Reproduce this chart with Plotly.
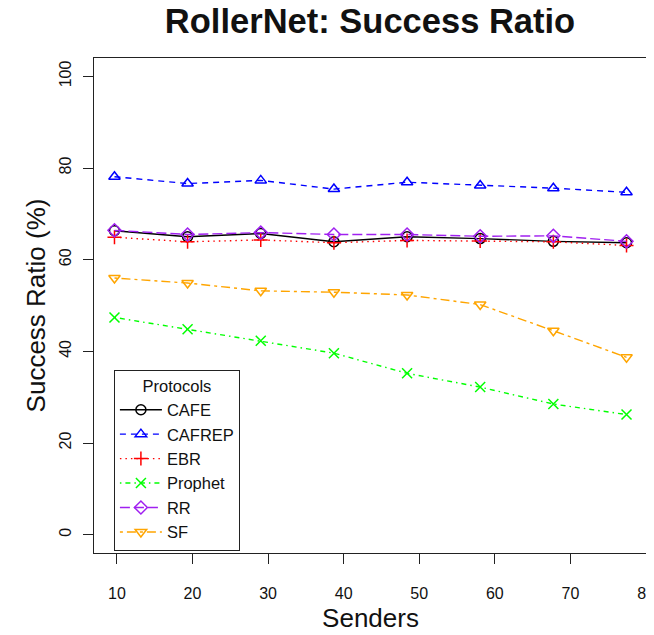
import plotly.graph_objects as go

senders = [9.68, 19.35, 29.03, 38.71, 48.39, 58.06, 67.74, 77.42]
x_ticks = [10, 20, 30, 40, 50, 60, 70, 80]
y_ticks = [0, 20, 40, 60, 80, 100]

cafe = [66.3, 65.0, 65.7, 63.9, 65.0, 64.6, 64.0, 63.7]
cafrep = [78.1, 76.6, 77.3, 75.4, 76.9, 76.2, 75.6, 74.7]
ebr = [64.9, 63.9, 64.3, 63.7, 64.2, 64.1, 63.9, 63.1]
prophet = [47.4, 44.8, 42.3, 39.6, 35.2, 32.2, 28.5, 26.2]
rr = [66.4, 65.5, 65.9, 65.5, 65.5, 65.1, 65.2, 64.0]
sf = [56.0, 54.9, 53.2, 52.9, 52.3, 50.2, 44.5, 38.7]

series = [
    ("CAFE", cafe, "black", "solid", "circle-open"),
    ("CAFREP", cafrep, "#0000FF", "6px,5px", "triangle-up-open"),
    ("EBR", ebr, "#FF0000", "1.5px,4px", "cross-thin-open"),
    ("Prophet", prophet, "#00FF00", "1.5px,4px,5px,4px", "x-thin-open"),
    ("RR", rr, "#A020F0", "10px,4px", "diamond-open"),
    ("SF", sf, "#FFA500", "3px,4px,9px,4px", "triangle-down-open"),
]

fig = go.Figure()
for name, vals, color, dash, sym in series:
    fig.add_trace(go.Scatter(
        x=senders, y=vals, name=name, mode="lines+markers",
        line=dict(color=color, width=1.4, dash=dash),
        marker=dict(symbol=sym, size=10, color=color,
                    line=dict(color=color, width=1.5)),
    ))

font_family = "Liberation Sans, Arial, Helvetica, sans-serif"
axis_common = dict(
    showgrid=False, zeroline=False, showline=True, mirror=True,
    linecolor="#222", linewidth=1, ticks="outside", ticklen=10,
    tickcolor="#222", tickwidth=1, automargin=False,
    ticklabeloverflow="allow",
    tickfont=dict(family=font_family, size=16, color="#111"),
)

# the page body adds an 8px offset; size the figure to compensate
fig.update_layout(
    width=646, height=627,
    margin=dict(l=86, r=7, t=50, b=82),
    paper_bgcolor="white", plot_bgcolor="white",
    font=dict(family=font_family, color="#111"),
    title=dict(text="<b>RollerNet: Success Ratio</b>", x=0.5604, xanchor="center",
               y=0.979, yanchor="middle",
               font=dict(family=font_family, size=34.5, color="#111")),
    xaxis=dict(range=[6.97, 80.13], tickvals=x_ticks,
               ticklabelstandoff=16,
               title=dict(text="Senders", standoff=7,
                          font=dict(family=font_family, size=26)),
               **axis_common),
    yaxis=dict(range=[-4, 104], tickvals=y_ticks, tickangle=-90,
               ticklabelstandoff=6,
               title=dict(text="Success Ratio (%)", standoff=3,
                          font=dict(family=font_family, size=26)),
               **axis_common),
    legend=dict(
        x=0.036, y=0.004, xanchor="left", yanchor="bottom",
        bordercolor="#222", borderwidth=1, bgcolor="white",
        font=dict(family=font_family, size=16.5, color="#111"),
        title=dict(text="Protocols", side="top center",
                   font=dict(family=font_family, size=16.5, color="#111")),
        tracegroupgap=0, itemwidth=42,
    ),
)

fig.write_html("out.html")
